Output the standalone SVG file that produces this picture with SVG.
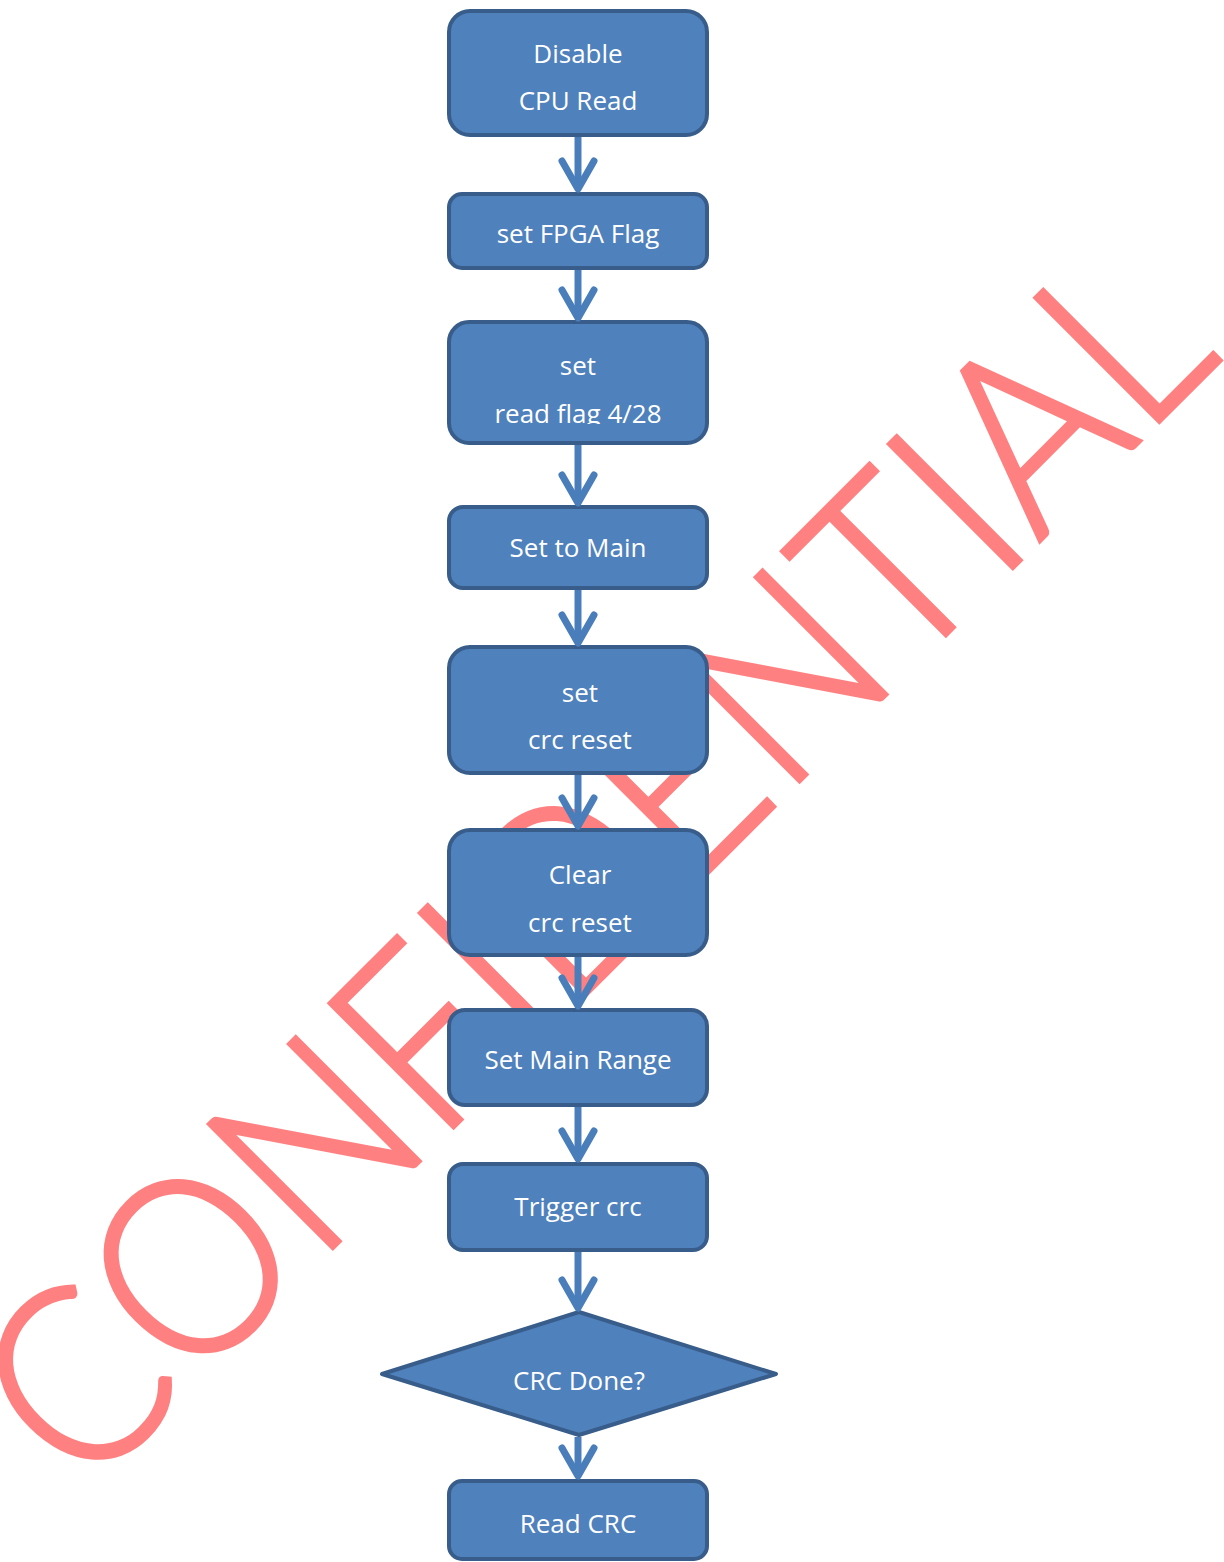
<svg xmlns="http://www.w3.org/2000/svg" width="1224" height="1562" viewBox="0 0 1224 1562">
<style>
.box{fill:#4F81BD;stroke:#385D8A;stroke-width:4}
.lbl{fill:#FFFFFF;font-family:"Open Sans","Noto Sans",sans-serif;font-size:26px;text-anchor:middle}
.wm{fill:#FF8080;stroke:#FF8080;stroke-width:4;stroke-linejoin:miter;font-family:Lato,"Open Sans",sans-serif;font-weight:300;font-size:248px}
.conn{stroke:#4A7EBB;stroke-width:7;fill:none;marker-end:url(#ah)}
</style>
<defs>
<marker id="ah" markerUnits="userSpaceOnUse" markerWidth="44" markerHeight="44" viewBox="-34 -22 40 44" refX="0" refY="0" orient="auto" overflow="visible">
<path d="M-28,-16 L0,0 L-28,16" fill="none" stroke="#4A7EBB" stroke-width="7" stroke-linecap="round" stroke-linejoin="round"/>
</marker>
<clipPath id="clip3"><rect x="449" y="322" width="258" height="102"/></clipPath>
</defs>
<g id="watermark">
<text class="wm" transform="rotate(-45)" x="-1000" y="1118" textLength="1612" lengthAdjust="spacingAndGlyphs">CONFIDENTIAL</text>
</g>
<g id="node1"><rect class="box" x="449" y="11" width="258" height="124" rx="21"/><text class="lbl" x="578" y="63">Disable</text><text class="lbl" x="578" y="110">CPU Read</text></g>
<g id="node2"><rect class="box" x="449" y="194" width="258" height="74" rx="13"/><text class="lbl" x="578" y="243">set FPGA Flag</text></g>
<g id="node3"><rect class="box" x="449" y="322" width="258" height="121" rx="20"/><g clip-path="url(#clip3)"><text class="lbl" x="578" y="375">set</text><text class="lbl" x="578" y="423">read flag 4/28</text></g></g>
<g id="node4"><rect class="box" x="449" y="507" width="258" height="81" rx="14"/><text class="lbl" x="578" y="557">Set to Main</text></g>
<g id="node5"><rect class="box" x="449" y="647" width="258" height="126" rx="21"/><text class="lbl" x="580" y="702">set</text><text class="lbl" x="580" y="749">crc reset</text></g>
<g id="node6"><rect class="box" x="449" y="830" width="258" height="125" rx="21"/><text class="lbl" x="580" y="884">Clear</text><text class="lbl" x="580" y="932">crc reset</text></g>
<g id="node7"><rect class="box" x="449" y="1010" width="258" height="95" rx="16"/><text class="lbl" x="578" y="1069">Set Main Range</text></g>
<g id="node8"><rect class="box" x="449" y="1164" width="258" height="86" rx="14"/><text class="lbl" x="578" y="1216">Trigger crc</text></g>
<g id="node9"><path class="box" d="M579,1312 L776,1374 L579,1435 L382,1374 Z" stroke-linejoin="round"/><text class="lbl" x="579" y="1390">CRC Done?</text></g>
<g id="node10"><rect class="box" x="449" y="1481" width="258" height="78" rx="13"/><text class="lbl" x="578" y="1533">Read CRC</text></g>
<g id="connectors">
<path class="conn" d="M578,137 V189"/>
<path class="conn" d="M578,270 V318"/>
<path class="conn" d="M578,445 V503"/>
<path class="conn" d="M578,590 V643"/>
<path class="conn" d="M578,775 V826"/>
<path class="conn" d="M578,957 V1006"/>
<path class="conn" d="M578,1107 V1159"/>
<path class="conn" d="M578,1252 V1308"/>
<path class="conn" d="M578,1437 V1476"/>
</g>
</svg>
